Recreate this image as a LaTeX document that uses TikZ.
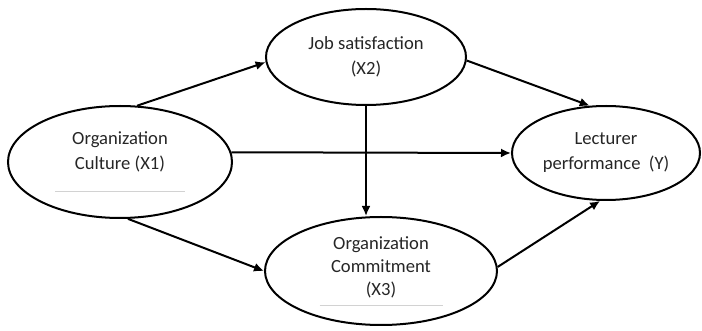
\documentclass[tikz,border=0pt]{standalone}
\usepackage{fontspec}
\setmainfont{Carlito}
\usepackage{xcolor}
\usetikzlibrary{arrows.meta,shapes}

\begin{document}
\begin{tikzpicture}[x=0.5pt, y=-0.5pt, line width=1pt, >={Latex[length=5pt,width=4.5pt]},
    font=\fontsize{9.3}{12.5}\selectfont, text=black!85]
    \useasboundingbox (0,0) rectangle (702,331);

    % Variables
    \node[draw,ellipse,inner sep=0pt,minimum width=112pt,minimum height=56pt,align=center] (x1) at (120,162)
        {Organization\\Culture (X1)\\[-1.5pt]\textcolor{gray!35}{\rule{65pt}{0.4pt}}};
    \node[draw,ellipse,inner sep=0pt,minimum width=100pt,minimum height=48pt,align=center] (x2) at (366,57)
        {Job satisfaction\\(X2)};
    \node[draw,ellipse,inner sep=0pt,minimum width=116pt,minimum height=54pt,align=center] (x3) at (381,271)
        {Organization\\[-1pt]Commitment\\[-1pt](X3)\\[-7.5pt]\textcolor{gray!35}{\rule{61.5pt}{0.4pt}}};
    \node[draw,ellipse,inner sep=0pt,minimum width=94pt,minimum height=47pt,align=center] (y) at (606,153)
        {Lecturer\\performance~ (Y)};

    % Paths
    \draw[->] (x1.73) -- (x2.183);
    \draw[->] (x1.5) -- (y.west);
    \draw[->] (x1.-82) -- (x3.west);
    \draw[->] (x2.-2) -- (y.109);
    \draw[->] (x2.south) -- (x2.south |- x3.north);
    \draw[->] (x3.2) -- (y.-97);
\end{tikzpicture}
\end{document}
